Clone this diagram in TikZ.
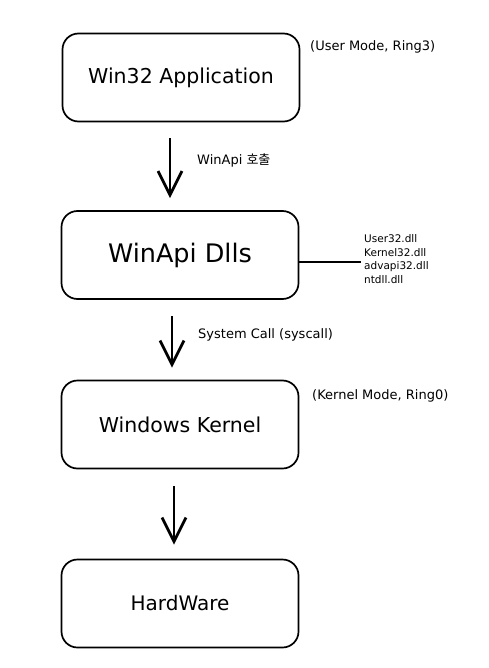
\documentclass[tikz,border=0pt]{standalone}
\usepackage{fontspec}
\setmainfont{DejaVu Sans}
\newfontfamily\krfont{Noto Sans CJK KR}
\usetikzlibrary{arrows.meta}
\begin{document}
\begin{tikzpicture}[x=1pt,y=-1pt,
  box/.style={draw, line width=1.7pt, rounded corners=16pt, minimum width=237pt, minimum height=88pt, inner sep=0pt},
  flow/.style={line width=2.8pt, -{Straight Barb[length=24pt,width=24pt]}},
  note/.style={inner sep=0pt, anchor=west, font=\fontsize{13}{15}\selectfont}]
\useasboundingbox (0,0) rectangle (488,668);
\node[box, font=\fontsize{20.5}{24}\selectfont] (app) at (181,77.5) {Win32 Application};
\node[box, font=\fontsize{25.5}{30}\selectfont] (dll) at (180,255) {WinApi Dlls};
\node[box, font=\fontsize{20.5}{24}\selectfont] (kern) at (180,424.5) {Windows Kernel};
\node[box, font=\fontsize{20}{24}\selectfont] (hw) at (180,603.5) {HardWare};
\node[note] (user) at (310,47) {(User Mode, Ring3)};
\node[note] (call1) at (197,160) {WinApi {\krfont 호출}};
\node[note] (call2) at (198,335) {System Call (syscall)};
\node[note] (kmode) at (312,396) {(Kernel Mode, Ring0)};
\node[inner sep=0pt, anchor=west, align=left, font=\fontsize{10.5}{13.5}\selectfont] (list) at (364,259) {User32.dll\\Kernel32.dll\\advapi32.dll\\ntdll.dll};
\draw[flow, shorten <=16pt, shorten >=12pt] ([xshift=-11pt]app.south) -- ([xshift=-10pt]dll.north);
\draw[flow, shorten <=16.5pt, shorten >=12pt] ([xshift=-8pt]dll.south) -- ([xshift=-8pt]kern.north);
\draw[flow, shorten <=17pt, shorten >=14pt] ([xshift=-6pt]kern.south) -- ([xshift=-6pt]hw.north);
\draw[line width=2.2pt] ([yshift=-7pt]dll.east) -- ([xshift=-3pt,yshift=-3pt]list.west);
\end{tikzpicture}
\end{document}
